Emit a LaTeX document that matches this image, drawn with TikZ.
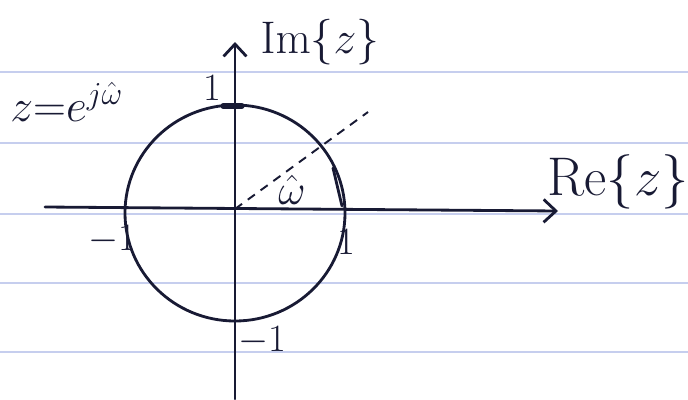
\documentclass[tikz,border=0pt]{standalone}
\usepackage{fix-cm}
\usepackage[RGB]{xcolor}
\usepackage{tikz}
\usetikzlibrary{arrows.meta}
\definecolor{ink}{RGB}{24,26,52}
\definecolor{rule}{RGB}{198,206,238}
\newcommand{\drawink}{\draw[line width=1.6pt, ink, line cap=round]}
\newcommand{\bigsize}[1]{\fontsize{#1}{#1}\selectfont}
\newcommand{\ruledlines}[1]{
    \foreach \y in {#1}{
      \draw[rule, line width=1pt] (0,\y)--(688,\y);
    }
}
\tikzset{
  lab/.style={ink, inner sep=0pt},
  barb/.style={-{Straight Barb[length=7pt,width=13pt]}}
}

\begin{document}
\begin{tikzpicture}[x=0.02cm, y=-0.02cm]
\useasboundingbox (0,0) rectangle (688,399);
\fill[white] (0,0) rectangle (688,399);
\ruledlines{72,143,214,283,352}
% axes and unit circle
\coordinate (O) at (235,209);
\coordinate (mid) at (235,213);
\coordinate (west) at (45,207);
\coordinate (east) at (558,211);
\coordinate (south) at (235,399);
\coordinate (north) at (235,42);
\coordinate (ray) at (368,112);
\coordinate (top) at (233,106);
\drawink[barb] (west)--(east);
\drawink[barb] (south)--(north);
\drawink (mid) ellipse [x radius=110, y radius=108];
\draw[ink, line width=1.1pt, dash pattern=on 5pt off 4pt] (O)--(ray);
\drawink[line width=3pt] ([xshift=-0.2cm]top)--([xshift=0.18cm]top);
\drawink (333,168)--(342,206);
% labels
\node[lab, font=\bigsize{26}] (im) at (320,42) {$\mathrm{Im}\{z\}$};
\node[lab, font=\bigsize{31}] (re) at (618,182) {$\mathrm{Re}\{z\}$};
\node[lab, font=\bigsize{26}, anchor=west] (zdef) at (10,102) {$z{=}e^{j\hat\omega}$};
\node[lab, font=\bigsize{22}] (ptop) at (212,88) {$1$};
\node[lab, font=\bigsize{22}] (pleft) at (112,240) {$-1$};
\node[lab, font=\bigsize{22}] (pright) at (346,242) {$1$};
\node[lab, font=\bigsize{22}] (pbot) at (262,341) {$-1$};
\node[lab, font=\bigsize{24}] (omega) at (292,190) {$\hat\omega$};
\end{tikzpicture}
\end{document}
